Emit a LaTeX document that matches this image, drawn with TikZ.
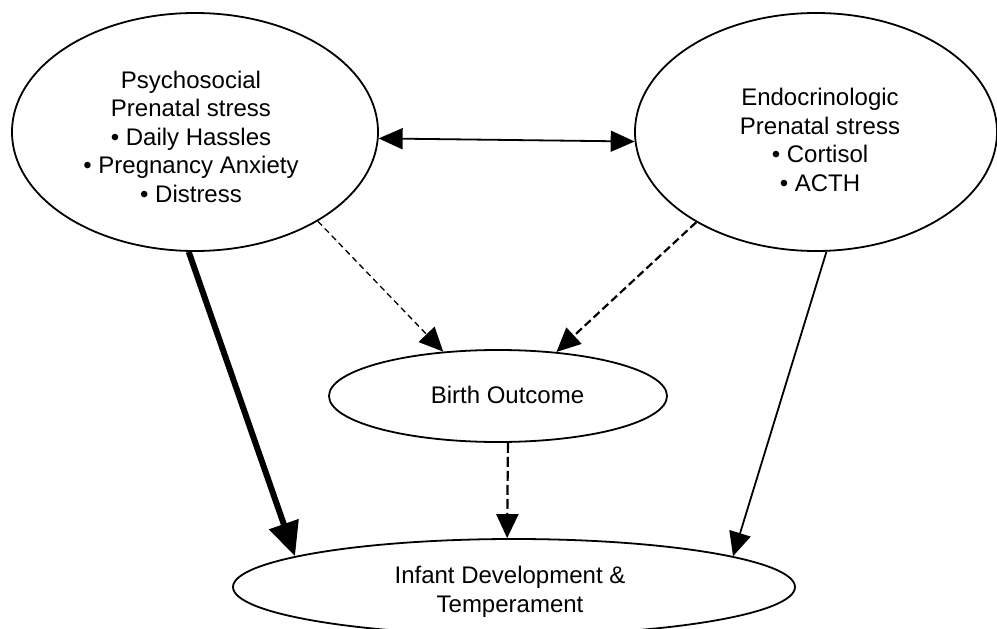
\documentclass[tikz,border=0pt]{standalone}
\usepackage{fontspec}
\setmainfont{Liberation Sans}
\usetikzlibrary{arrows.meta,shapes.geometric}
\begin{document}
\begin{tikzpicture}[x=1pt,y=-1pt,
  ell/.style={draw, ellipse, line width=1.8pt, inner sep=0pt},
  lbl/.style={align=center, inner sep=0pt, font=\fontsize{24pt}{28.5pt}\selectfont},
  tip/.style={-{Triangle[length=24pt,width=22pt]}},
  bigtip/.style={-{Triangle[length=34pt,width=30pt]}},
  twotip/.style={{Triangle[length=24pt,width=21pt]}-{Triangle[length=24pt,width=21pt]}},
  thinline/.style={line width=1.8pt},
  thickline/.style={line width=6pt},
  fineDash/.style={line width=1.3pt, dash pattern=on 6pt off 4pt},
  boldDash/.style={line width=2.2pt, dash pattern=on 8pt off 4pt},
  vertDash/.style={line width=2.2pt, dash pattern=on 10pt off 4pt}]
\useasboundingbox (0,0) rectangle (997,629);

% ellipses
\node[ell, minimum width=366pt, minimum height=238pt] (psy) at (195,132) {};
\node[ell, minimum width=362pt, minimum height=238pt] (endo) at (816,132) {};
\node[ell, minimum width=338pt, minimum height=92pt] (bo) at (498,396) {};
\node[ell, minimum width=562pt, minimum height=96pt] (inf) at (514,587) {};

% texts
\node[lbl] (psyT) at (191,136.5) {Psychosocial\\Prenatal stress\\• Daily Hassles\\• Pregnancy Anxiety\\• Distress};
\node[lbl] (endoT) at (820,140) {Endocrinologic\\Prenatal stress\\• Cortisol\\• ACTH};
\node[lbl] (boT) at (507.5,394.6) {Birth Outcome};
\node[lbl] (infT) at (510,591.9) {Infant Development \&\\Temperament};

% connectors
\draw[thinline, twotip] (psy.-2.8) -- (endo.-177.15);
\draw[thickline, bigtip] (psy.-93.8) -- (inf.172);
\draw[fineDash, tip] (psy.-36.25) -- (bo.141.8);
\draw[boldDash, tip] (endo.-143.3) -- (bo.37.7);
\draw[vertDash, tip] (bo.-78.9) -- (inf.98.3);
\draw[thinline, tip] (endo.-85.7) -- (inf.8.09);
\end{tikzpicture}
\end{document}
